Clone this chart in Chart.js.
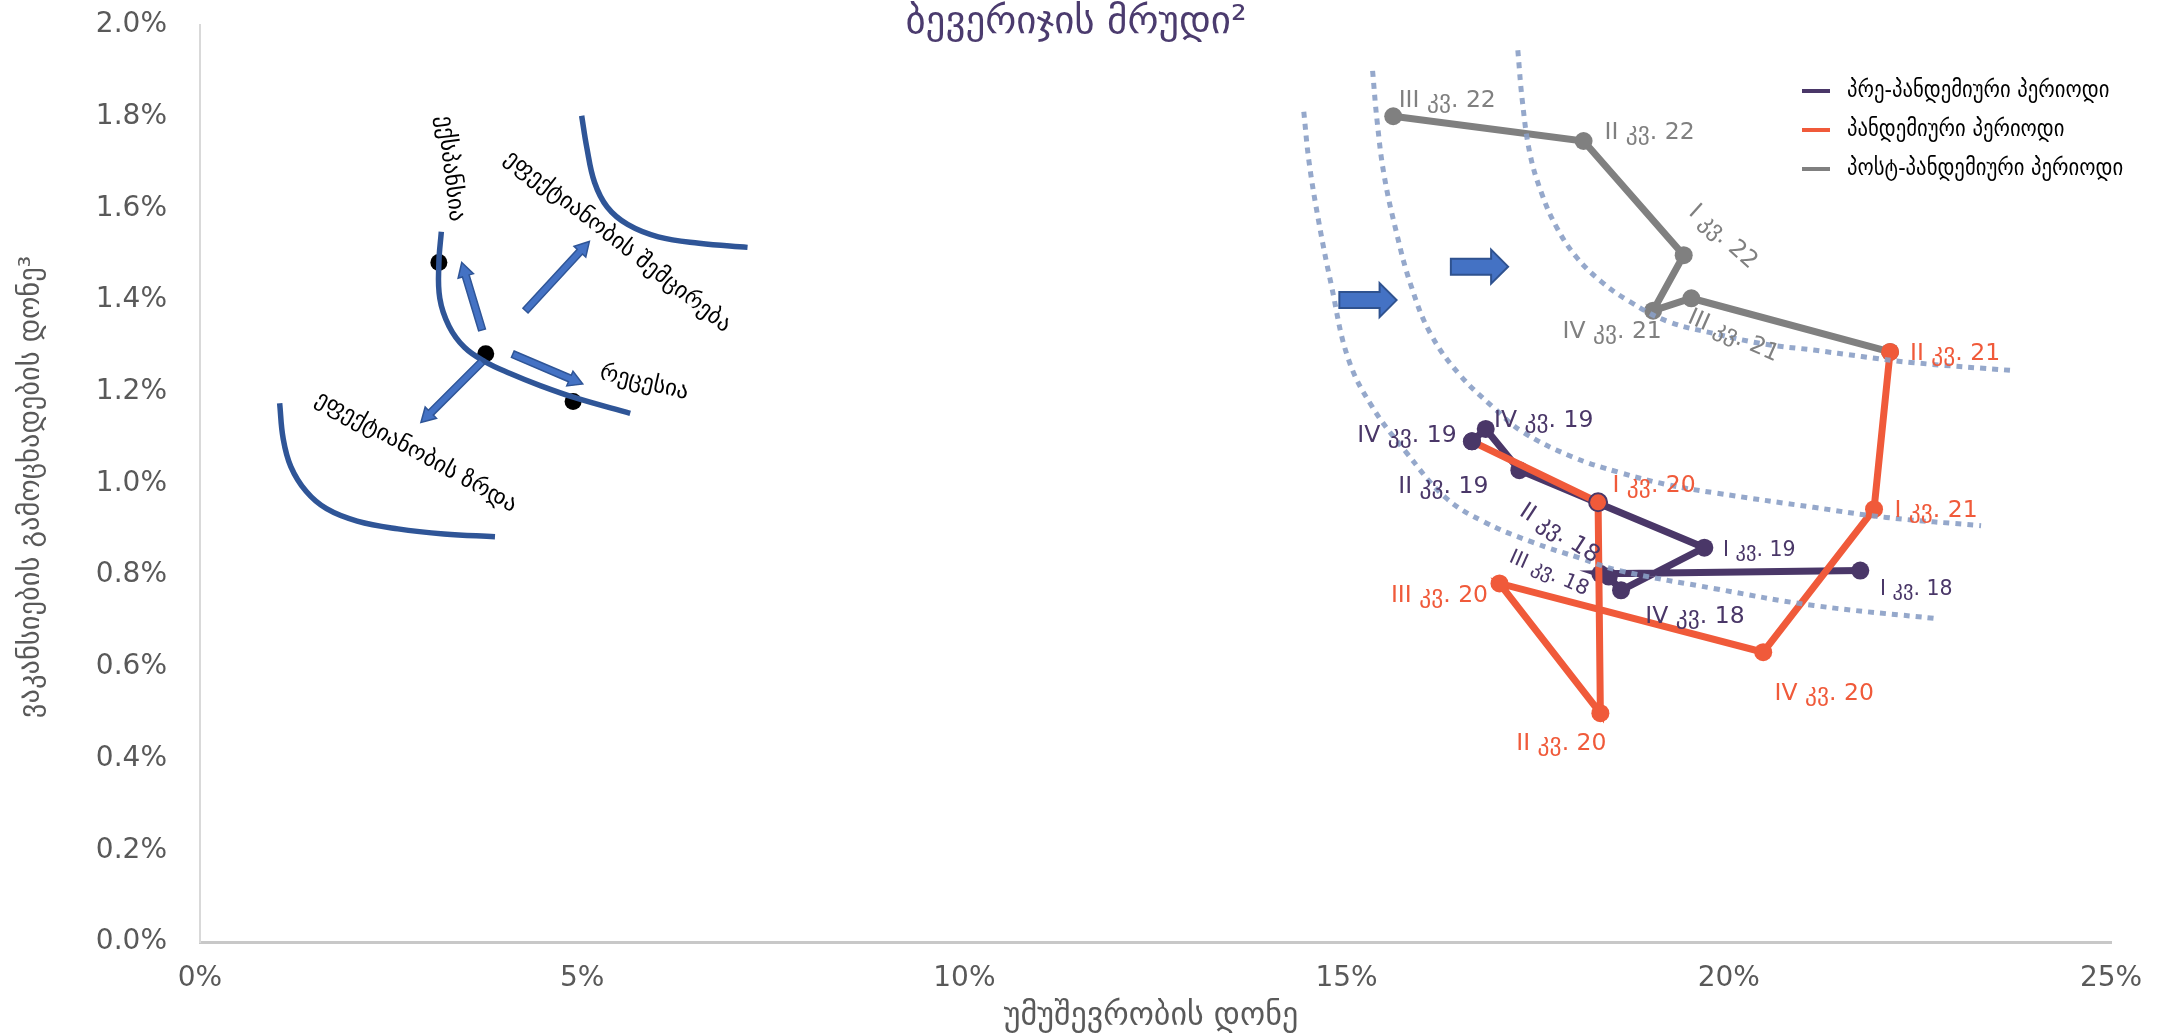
<!DOCTYPE html>
<html><head><meta charset="utf-8">
<script src="https://cdn.jsdelivr.net/npm/chart.js@4.4.1/dist/chart.umd.min.js"></script>
<style>html,body{margin:0;padding:0;background:#fff;overflow:hidden}canvas{display:block}</style>
</head><body>
<canvas id="c" width="2163" height="1033"></canvas>
<script>
// ---------- data ----------
const seriesNames = ['პრე-პანდემიური პერიოდი', 'პანდემიური პერიოდი', 'პოსტ-პანდემიური პერიოდი'];

const preLabels = ['I კვ. 18','II კვ. 18','III კვ. 18','IV კვ. 18','I კვ. 19','II კვ. 19','IV კვ. 19','IV კვ. 19'];
const preUnemp  = [21.72, 18.32, 18.43, 18.59, 19.68, 17.26, 16.82, 16.64];
const preVac    = [0.810, 0.803, 0.797, 0.767, 0.860, 1.029, 1.119, 1.092];

const panLabels = ['', 'I კვ. 20','II კვ. 20','III კვ. 20','IV კვ. 20','I კვ. 21','II კვ. 21'];
const panUnemp  = [16.64, 18.29, 18.32, 17.00, 20.45, 21.90, 22.11];
const panVac    = [1.092, 0.959, 0.499, 0.782, 0.632, 0.944, 1.287];

const postLabels = ['', 'III კვ. 21','IV კვ. 21','I კვ. 22','II კვ. 22','III კვ. 22'];
const postUnemp  = [22.11, 19.51, 19.01, 19.41, 18.10, 15.61];
const postVac    = [1.287, 1.404, 1.377, 1.498, 1.747, 1.801];

// Beveridge curves (dotted)
const bc1X = [14.44,14.51,14.64,14.80,15.02,15.34,15.78,16.29,16.79,17.43,18.06,18.57,19.84,21.11,22.73];
const bc1Y = [1.811,1.700,1.567,1.433,1.273,1.166,1.068,0.970,0.917,0.872,0.837,0.810,0.770,0.734,0.705];
const bc2X = [15.34,15.40,15.49,15.65,15.84,16.10,16.48,16.92,17.30,17.94,18.57,19.21,19.84,21.11,22.06,23.30];
const bc2Y = [1.900,1.789,1.673,1.549,1.433,1.326,1.237,1.166,1.113,1.059,1.024,0.997,0.979,0.948,0.926,0.908];
const bc3X = [17.24,17.30,17.40,17.56,17.75,18.00,18.32,18.70,19.21,19.84,20.47,21.11,21.74,22.38,23.74];
const bc3Y = [1.945,1.833,1.718,1.629,1.558,1.495,1.442,1.397,1.353,1.326,1.304,1.291,1.277,1.264,1.246];

// schematic curves (solid)
const scMidX = [3.157,3.125,3.137,3.258,3.459,3.726,4.058,4.459,4.926,5.628];
const scMidY = [1.549,1.481,1.404,1.343,1.297,1.266,1.240,1.213,1.186,1.153];
const scHighX = [4.993,5.060,5.161,5.327,5.594,5.995,6.529,7.163];
const scHighY = [1.802,1.733,1.657,1.603,1.565,1.538,1.524,1.515];
const scLowX = [1.042,1.088,1.188,1.388,1.655,2.056,2.590,3.191,3.859];
const scLowY = [1.175,1.098,1.037,0.983,0.945,0.918,0.901,0.890,0.884];
const dotX = [3.125, 3.738, 4.881];
const dotY = [1.482, 1.283, 1.179];

// arrows (tail -> head)
const arrTailX = [3.690, 4.258, 3.691, 4.092];
const arrTailY = [1.335, 1.377, 1.266, 1.282];
const arrHeadX = [3.424, 5.094, 2.890, 5.007];
const arrHeadY = [1.482, 1.528, 1.133, 1.217];
const shiftTailX = [14.905, 16.364];
const shiftHeadX = [15.654, 17.113];
const shiftY = [1.400, 1.473];

// schematic texts
const noteTexts = ['ექსპანსია', 'ეფექტიანობის შემცირება', 'რეცესია', 'ეფექტიანობის ზრდა'];
const noteX = [3.27, 5.46, 5.809, 2.823];
const noteY = [1.687, 1.527, 1.219, 1.068];

const xTickStep = 5, yTickStep = 0.2;

// ---------- styles (label placement) ----------
const PURPLE = '#4a3768', ORANGE = '#f05a3a', GRAY = '#808080';
const preLabelStyle  = [[56,19,0,20.5],[-41,-40,33,23.5],[-60,-3,24,20.5],[74,27,0,23.5],[55,3,0,20.5],[-76,17,0,23.5],[58,-8,0,23.5],[-65,-5,0,23.5]];
const panLabelStyle  = [null,[56,-16,0,23.5],[-39,31,0,23.5],[-60,12,0,23.5],[61,42,0,23.5],[62,2,0,23.5],[65,2,0,23.5]];
const postLabelStyle = [null,[42,38,24,23.5],[-41,21,0,23.5],[39,-18,42,23.5],[66,-8,0,23.5],[54,-15,0,23.5]];
const noteRot = [83, 38, 13, 29];

const pts = (xs, ys) => xs.map((x, i) => ({x, y: ys[i]}));
const FONT = '"DejaVu Sans"';

function blockArrow(ctx, x1, y1, x2, y2, sh, hh, hl, fill, stroke, lw) {
  const dx = x2 - x1, dy = y2 - y1, L = Math.hypot(dx, dy);
  ctx.save();
  ctx.translate(x1, y1);
  ctx.rotate(Math.atan2(dy, dx));
  ctx.beginPath();
  ctx.moveTo(0, -sh);
  ctx.lineTo(L - hl, -sh);
  ctx.lineTo(L - hl, -hh);
  ctx.lineTo(L, 0);
  ctx.lineTo(L - hl, hh);
  ctx.lineTo(L - hl, sh);
  ctx.lineTo(0, sh);
  ctx.closePath();
  ctx.fillStyle = fill; ctx.fill();
  ctx.lineWidth = lw; ctx.strokeStyle = stroke; ctx.stroke();
  ctx.restore();
}

const custom = {
  id: 'custom',
  afterDatasetsDraw(chart) {
    const ctx = chart.ctx, xs = chart.scales.x, ys = chart.scales.y;
    for (let i = 0; i < arrTailX.length; i++) {
      blockArrow(ctx, xs.getPixelForValue(arrTailX[i]), ys.getPixelForValue(arrTailY[i]),
        xs.getPixelForValue(arrHeadX[i]), ys.getPixelForValue(arrHeadY[i]), 3.5, 8, 14, '#4472c4', '#2f5597', 1.5);
    }
    for (let i = 0; i < shiftTailX.length; i++) {
      blockArrow(ctx, xs.getPixelForValue(shiftTailX[i]), ys.getPixelForValue(shiftY[i]),
        xs.getPixelForValue(shiftHeadX[i]), ys.getPixelForValue(shiftY[i]), 8, 17, 17, '#4472c4', '#2f528f', 2);
    }
    ctx.save();
    ctx.fillStyle = '#000';
    ctx.textAlign = 'center'; ctx.textBaseline = 'middle';
    ctx.font = '23px ' + FONT;
    for (let i = 0; i < noteTexts.length; i++) {
      ctx.save();
      ctx.translate(xs.getPixelForValue(noteX[i]), ys.getPixelForValue(noteY[i]));
      ctx.rotate(noteRot[i] * Math.PI / 180);
      ctx.fillText(noteTexts[i], 0, 0);
      ctx.restore();
    }
    ctx.restore();
    const groups = [[0, preLabels, preLabelStyle, PURPLE], [1, panLabels, panLabelStyle, ORANGE], [2, postLabels, postLabelStyle, GRAY]];
    ctx.save();
    ctx.textAlign = 'center'; ctx.textBaseline = 'middle';
    for (const [di, labels, st, col] of groups) {
      const meta = chart.getDatasetMeta(di);
      labels.forEach((t, i) => {
        if (!t || !st[i]) return;
        const el = meta.data[i];
        const [ox, oy, rot, sz] = st[i];
        ctx.save();
        ctx.translate(el.x + ox, el.y + oy);
        ctx.rotate(rot * Math.PI / 180);
        ctx.font = sz + 'px ' + FONT;
        ctx.fillStyle = col;
        ctx.fillText(t, 0, 0);
        ctx.restore();
      });
    }
    ctx.restore();
  },
  afterDraw(chart) {
    const ctx = chart.ctx;
    ctx.save();
    ctx.textAlign = 'center'; ctx.textBaseline = 'middle';
    ctx.fillStyle = '#4b3b6e';
    ctx.font = '39px ' + FONT;
    ctx.fillText('ბევერიჯის მრუდი²', 1076, 23);
    ctx.fillStyle = '#595959';
    ctx.font = '32px ' + FONT;
    ctx.fillText('უმუშევრობის დონე', 1151, 1017);
    ctx.font = '28.5px ' + FONT;
    ctx.save();
    ctx.translate(32, 487);
    ctx.rotate(-Math.PI / 2);
    ctx.fillText('ვაკანსიების გამოცხადების დონე³', 0, 0);
    ctx.restore();
    const cols = [PURPLE, ORANGE, GRAY];
    ctx.textAlign = 'left';
    ctx.font = '23px "DejaVu Sans Condensed", "DejaVu Sans"';
    seriesNames.forEach((n, i) => {
      const y = 91 + i * 39;
      ctx.strokeStyle = cols[i]; ctx.lineWidth = 4;
      ctx.beginPath(); ctx.moveTo(1802, y); ctx.lineTo(1830, y); ctx.stroke();
      ctx.fillStyle = '#000';
      ctx.fillText(n, 1847, y);
    });
    ctx.restore();
  }
};

const dotted = (xs, ys) => ({data: pts(xs, ys), showLine: true, borderColor: 'rgba(138,159,197,0.9)', borderWidth: 5,
  borderDash: [6, 6], pointRadius: 0, tension: 0.4, order: 0});
const solid = (xs, ys) => ({data: pts(xs, ys), showLine: true, borderColor: '#2f5597', borderWidth: 5.5,
  pointRadius: 0, tension: 0.4, order: 0});

new Chart(document.getElementById('c'), {
  type: 'scatter',
  data: {
    datasets: [
      {label: seriesNames[0], data: pts(preUnemp, preVac), showLine: true, borderColor: PURPLE, backgroundColor: PURPLE,
        borderWidth: 7, pointRadius: 9, pointBorderWidth: 0, order: 2},
      {label: seriesNames[1], data: pts(panUnemp, panVac), showLine: true, borderColor: ORANGE, backgroundColor: ORANGE,
        pointBackgroundColor: [PURPLE, ORANGE, ORANGE, ORANGE, ORANGE, ORANGE, ORANGE],
        pointBorderColor: [PURPLE, PURPLE, ORANGE, ORANGE, ORANGE, ORANGE, ORANGE],
        pointBorderWidth: [0, 2, 0, 0, 0, 0, 0],
        borderWidth: 7, pointRadius: 9, order: 1},
      {label: seriesNames[2], data: pts(postUnemp, postVac), showLine: true, borderColor: GRAY, backgroundColor: GRAY,
        borderWidth: 7, pointRadius: 9, pointBorderWidth: 0, order: 3},
      dotted(bc1X, bc1Y), dotted(bc2X, bc2Y), dotted(bc3X, bc3Y),
      solid(scMidX, scMidY), solid(scHighX, scHighY), solid(scLowX, scLowY),
      {data: pts(dotX, dotY), showLine: false, backgroundColor: '#000', borderWidth: 0, pointRadius: 8.5, order: 0}
    ]
  },
  options: {
    responsive: false, devicePixelRatio: 1, animation: false, events: [],
    layout: {padding: {top: 25, right: 52, left: 0, bottom: 0}},
    plugins: {legend: {display: false}, tooltip: {enabled: false}, title: {display: false}},
    scales: {
      x: {type: 'linear', min: 0, max: 25,
        grid: {display: false}, border: {display: true, color: '#c8c8c8', width: 3},
        ticks: {stepSize: xTickStep, padding: 12, color: '#595959', font: {family: 'DejaVu Sans', size: 28},
          callback: v => v + '%'},
        afterFit: s => { s.height = 91; s.paddingLeft = 0; s.paddingRight = 0; }},
      y: {type: 'linear', min: 0, max: 2,
        grid: {display: false}, border: {display: true, color: '#d9d9d9', width: 2},
        ticks: {stepSize: yTickStep, padding: 25, color: '#595959', font: {family: 'DejaVu Sans', size: 28},
          callback: v => v.toFixed(1) + '%'},
        afterFit: s => { s.width = 200; s.paddingTop = 0; s.paddingBottom = 0; }}
    }
  },
  plugins: [custom]
});
</script>
</body></html>
